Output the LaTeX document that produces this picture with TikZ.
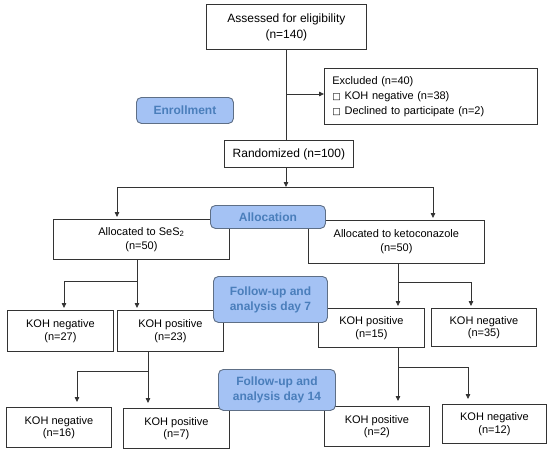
\documentclass[tikz,border=0pt]{standalone}
\usepackage{fontspec}
\setmainfont{Liberation Sans}
\newfontfamily\symf{DejaVu Sans}
\usetikzlibrary{arrows.meta}
\definecolor{lblfill}{HTML}{A4C2F4}
\definecolor{lbltext}{HTML}{4A7EBB}
\definecolor{lbldraw}{HTML}{5E6F86}
\definecolor{ink}{HTML}{333333}
\newcommand{\sq}{{\symf\fontsize{9}{9}\selectfont □}}
\begin{document}
\begin{tikzpicture}[x=1pt,y=-1pt,
  wbox/.style={draw=ink, line width=0.8pt, fill=white, inner sep=0pt, align=center,
    anchor=north west, font=\fontsize{11}{12.5}\selectfont},
  lbl/.style={draw=lbldraw, line width=0.9pt, fill=lblfill, rounded corners=5pt, inner sep=0pt,
    align=center, anchor=north west, text=lbltext, font=\fontsize{12}{15}\selectfont\bfseries},
  conn/.style={draw=ink, line width=0.8pt},
  arr/.style={conn, -{Triangle[length=5pt,width=4.5pt]}},
  arrg/.style={arr, shorten >=2pt},
  arrh/.style={arr, shorten >=5pt}]
\useasboundingbox (0,0) rectangle (550,453);
\fill[white] (0,0) rectangle (550,453);

% white boxes
\node[wbox, minimum width=160pt, minimum height=45pt, font=\fontsize{12}{16}\selectfont] (assess) at (206,4) {Assessed for eligibility\\(n=140)};
\node[wbox, minimum width=213pt, minimum height=56pt, text width=197pt, align=left, inner xsep=8pt,
  font=\fontsize{11}{15}\selectfont] (excl) at (324,68)
  {Excluded (n=40)\\\sq\ KOH negative (n=38)\\\sq\ Declined to participate (n=2)};
\node[wbox, minimum width=129pt, minimum height=27pt, font=\fontsize{12}{15}\selectfont] (rand) at (224,140) {Randomized (n=100)};
\node[wbox, minimum width=176pt, minimum height=40pt, font=\fontsize{11}{14}\selectfont] (ses) at (53,219) {Allocated to SeS\textsubscript{2}\\(n=50)};
\node[wbox, minimum width=176pt, minimum height=43pt, font=\fontsize{11}{14}\selectfont] (keto) at (308,220) {Allocated to ketoconazole\\(n=50)};
\node[wbox, minimum width=106pt, minimum height=41pt] (neg27) at (7,310) {KOH negative\\(n=27)};
\node[wbox, minimum width=106pt, minimum height=41pt] (pos23) at (117,310) {KOH positive\\(n=23)};
\node[wbox, minimum width=106pt, minimum height=39pt] (pos15) at (318,308) {KOH positive\\(n=15)};
\node[wbox, minimum width=105pt, minimum height=38pt] (neg35) at (431,308) {KOH negative\\(n=35)};
\node[wbox, minimum width=105pt, minimum height=40pt] (neg16) at (6,407) {KOH negative\\(n=16)};
\node[wbox, minimum width=106pt, minimum height=40pt] (pos7) at (123,408) {KOH positive\\(n=7)};
\node[wbox, minimum width=105pt, minimum height=40pt] (pos2) at (324,406) {KOH positive\\(n=2)};
\node[wbox, minimum width=104pt, minimum height=39pt] (neg12) at (442,404) {KOH negative\\(n=12)};

% connectors
\draw[conn] (assess.south) -- (assess.south |- rand.north);
\coordinate (ej) at (286,94);
\draw[arr] (ej) -- (ej -| excl.west);

\coordinate (sL) at (117,187);
\coordinate (sR) at (433,187);
\draw[arr] (rand.south -| ej) -- (sL -| ej);
\draw[conn] (sL) -- (sR);
\draw[arrg] (sL) -- (sL |- ses.north);
\draw[arrg] (sR) -- (sR |- keto.north);

\coordinate (aL) at (137,281);
\coordinate (aLL) at (64,281);
\draw[conn] (aL |- ses.south) -- (aL) -- (aLL);
\draw[arrg] (aL) -- (aL |- pos23.north);
\draw[arrg] (aLL) -- (aLL |- neg27.north);

\coordinate (aR) at (398,282);
\coordinate (aRR) at (471,282);
\draw[conn] (aR |- keto.south) -- (aR) -- (aRR);
\draw[arrg] (aR) -- (aR |- pos15.north);
\draw[arrg] (aRR) -- (aRR |- neg35.north);

\coordinate (bL) at (148,371);
\coordinate (bLL) at (77,371);
\draw[conn] (bL |- pos23.south) -- (bL) -- (bLL);
\draw[arrh] (bL) -- (bL |- pos7.north);
\draw[arrh] (bLL) -- (bLL |- neg16.north);

\coordinate (bR) at (398,367);
\coordinate (bRR) at (468,367);
\draw[conn] (bR |- pos15.south) -- (bR) -- (bRR);
\draw[arrh] (bR) -- (bR |- pos2.north);
\draw[arrh] (bRR) -- (bRR |- neg12.north);

% stage labels
\node[lbl, minimum width=97pt, minimum height=26pt] (enroll) at (136,97) {Enrollment};
\node[lbl, minimum width=115pt, minimum height=23pt] (alloc) at (210,205) {Allocation};
\node[lbl, minimum width=114pt, minimum height=46pt] (day7) at (213,276) {Follow-up and\\analysis day 7};
\node[lbl, minimum width=117pt, minimum height=41pt] (day14) at (218,369) {Follow-up and\\analysis day 14};
\end{tikzpicture}
\end{document}
